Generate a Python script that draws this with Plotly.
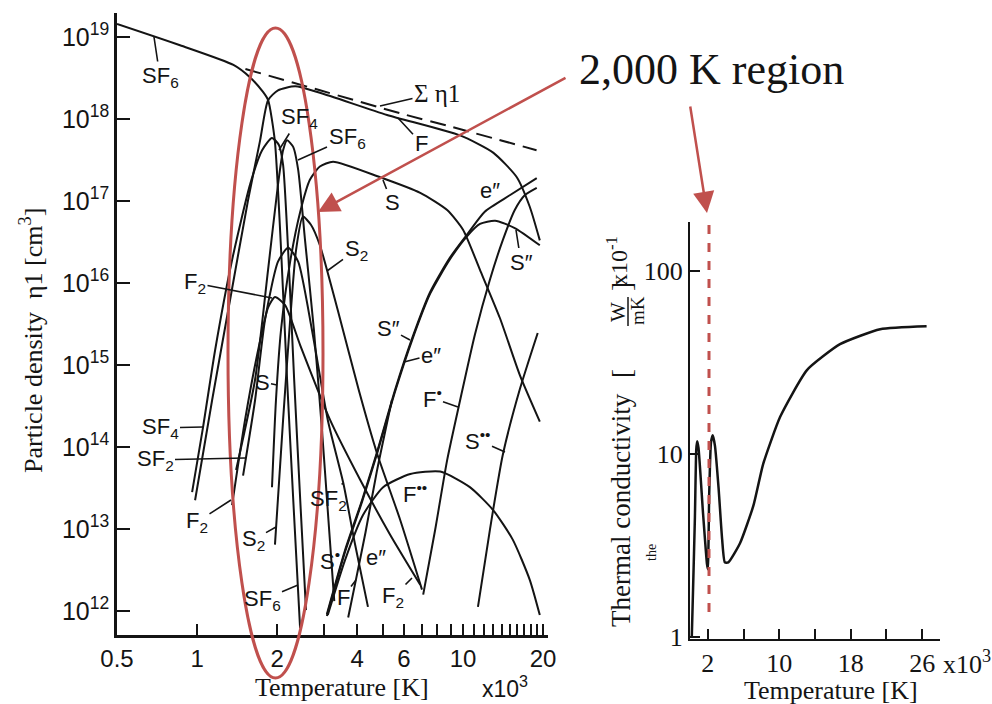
import numpy as np
import plotly.graph_objects as go

W, H = 992, 704


def P(x, y):
    return x / W, 1 - y / H


# ---------------- left panel data (T in 10^3 K, log10 of particle density) -------------
sf6_T = [0.5, 0.863, 1.37, 1.58, 1.77, 1.85, 1.96, 2.07, 2.18, 2.30, 2.44]
sf6_n = [19.16, 18.90, 18.66, 18.51, 18.33, 18.23, 17.74, 16.40, 14.82, 13.35, 11.79]

sum_T = [1.52, 2.90, 5.80, 9.16, 18.9]
sum_n = [18.61, 18.35, 18.07, 17.90, 17.62]

f_T = [0.983, 1.139, 1.330, 1.555, 1.726, 1.849, 2.015, 2.339, 2.896, 5.180, 9.751, 12.98, 15.93, 17.82, 19.44]
f_n = [13.35, 14.57, 15.79, 17.01, 17.74, 18.23, 18.35, 18.40, 18.32, 18.05, 17.80, 17.59, 17.29, 16.93, 16.52]

sf4_T = [0.958, 1.053, 1.169, 1.354, 1.582, 1.756, 1.913, 2.033, 2.106, 2.200, 2.318, 2.443, 2.568]
sf4_n = [13.45, 14.24, 15.18, 16.28, 17.20, 17.62, 17.77, 17.68, 17.44, 16.40, 14.82, 13.35, 12.01]

sf_T = [1.402, 1.652, 1.849, 2.015, 2.106, 2.181, 2.298, 2.400, 2.547, 2.750, 2.950, 3.120, 3.280]
sf_n = [13.72, 14.82, 16.16, 17.20, 17.62, 17.74, 17.66, 17.38, 16.52, 15.43, 14.20, 13.10, 12.12]

s2_T = [1.963, 2.106, 2.239, 2.356, 2.499, 2.680, 2.896, 3.380, 4.050, 4.741, 5.805, 7.01]
s2_n = [12.81, 14.33, 15.55, 16.40, 16.81, 16.71, 16.46, 15.67, 14.70, 13.93, 13.11, 12.26]

f2_T = [1.354, 1.515, 1.696, 1.849, 1.963, 2.143, 2.443, 3.163, 4.104, 5.320, 6.904]
f2_n = [13.29, 14.33, 15.18, 15.70, 15.83, 15.73, 15.24, 14.33, 13.60, 12.93, 12.32]

sf2_T = [1.489, 1.652, 1.801, 2.015, 2.200, 2.400, 2.703, 3.101, 3.547, 3.928, 4.391]
sf2_n = [13.65, 14.57, 15.55, 16.26, 16.43, 16.26, 15.43, 14.33, 13.56, 12.81, 12.05]

s_T = [1.913, 1.980, 2.069, 2.239, 2.443, 2.656, 2.896, 3.246, 4.879, 6.904, 8.716, 10.0, 11.58, 13.77, 16.34, 19.44]
s_n = [13.51, 14.57, 15.43, 16.26, 16.87, 17.26, 17.42, 17.48, 17.29, 17.10, 16.89, 16.65, 16.16, 15.57, 14.88, 14.31]

e_T = [3.076, 3.600, 4.171, 4.741, 5.558, 6.445, 7.524, 8.931, 10.35, 12.07, 14.99, 18.93]
e_n = [11.96, 12.74, 13.35, 13.93, 14.70, 15.33, 15.89, 16.31, 16.59, 16.87, 17.07, 17.28]

s2p_T = [3.076, 3.600, 4.171, 4.741, 5.558, 6.445, 7.524, 8.931, 10.35, 11.58, 13.20, 15.65, 19.44]
s2p_n = [11.94, 12.72, 13.33, 13.91, 14.68, 15.31, 15.87, 16.29, 16.57, 16.72, 16.76, 16.67, 16.46]

fp_T = [3.70, 3.95, 4.30, 4.740, 5.40]
fp_n = [11.92, 12.37, 12.96, 13.70, 14.57]

fpp1_T = [7.083, 7.857, 8.716, 9.751, 11.08, 12.62, 14.10, 15.65, 17.06, 18.93]
fpp1_n = [12.20, 12.99, 13.84, 14.57, 15.37, 16.04, 16.52, 16.89, 17.07, 17.16]

spp_T = [11.38, 12.62, 14.10, 16.34, 19.09]
spp_n = [12.05, 12.99, 13.90, 14.70, 15.39]

fpp_T = [3.101, 3.600, 4.207, 5.007, 6.333, 8.207, 10.61, 12.98, 15.38, 17.82, 19.44]
fpp_n = [11.95, 12.62, 13.17, 13.51, 13.67, 13.70, 13.51, 13.23, 12.87, 12.38, 11.95]

# ---------------- right panel data -------------
tc_T = [0.2, 0.34, 0.55, 0.7, 0.8, 0.95, 1.45, 1.9, 2.0, 2.15, 2.35, 2.55, 2.8, 3.2, 3.6,
        3.9, 4.3, 5.6, 7.1, 8.2, 10.1, 13.1, 16.8, 21.3, 26.5]
tc_k = [1.0, 1.8, 4.5, 10.5, 11.7, 10.8, 4.8, 2.5, 2.34, 6.0, 11.5, 12.6, 11.0, 6.5, 3.4,
        2.55, 2.55, 3.24, 5.2, 8.8, 15.9, 28.6, 39.6, 47.8, 49.6]

left_ticks = [0.5, 1, 2, 3, 4, 5, 6, 7, 8, 9, 10, 11, 12, 13, 14, 15, 16, 17, 18, 19, 20]
left_ticklabels = {0.5: "0.5", 1: "1", 2: "2", 4: "4", 6: "6", 10: "10", 20: "20"}
dens_exp = [12, 13, 14, 15, 16, 17, 18, 19]
right_xticks = [2, 6, 10, 14, 18, 22, 26]
right_xlabels = ["2", " ", "10", " ", "18", " ", "26"]
right_yticks = [1, 10, 100]

INK = "#141414"
RED = "#C0504D"
SANS = "Liberation Sans"
SERIF = "Liberation Serif"

fig = go.Figure()

left_curves = [
    (sf6_T, sf6_n, "solid"), (sum_T, sum_n, "dash"), (f_T, f_n, "solid"), (sf4_T, sf4_n, "solid"),
    (sf_T, sf_n, "solid"), (s2_T, s2_n, "solid"), (f2_T, f2_n, "solid"), (sf2_T, sf2_n, "solid"),
    (s_T, s_n, "solid"), (e_T, e_n, "solid"), (s2p_T, s2p_n, "solid"), (fp_T, fp_n, "solid"),
    (fpp1_T, fpp1_n, "solid"), (spp_T, spp_n, "solid"), (fpp_T, fpp_n, "solid"),
]
for T, n, dash in left_curves:
    fig.add_trace(go.Scatter(
        x=T, y=10 ** np.array(n), mode="lines", xaxis="x", yaxis="y",
        line=dict(color=INK, width=2, dash=dash if dash == "solid" else "16px,8px",
                  shape="spline", smoothing=0.6),
        showlegend=False, hoverinfo="skip"))

fig.add_trace(go.Scatter(
    x=tc_T, y=tc_k, mode="lines", xaxis="x2", yaxis="y2",
    line=dict(color=INK, width=2.5, shape="spline", smoothing=0.5),
    showlegend=False, hoverinfo="skip"))

axis_common = dict(showgrid=False, zeroline=False, showline=True, linecolor=INK,
                   ticks="inside", tickcolor=INK, mirror=False, automargin=False, tickangle=0)

fig.update_layout(
    template="none",
    width=W, height=H, margin=dict(l=0, r=0, t=0, b=0, pad=0, autoexpand=False),
    paper_bgcolor="white", plot_bgcolor="white", showlegend=False,
    xaxis=dict(axis_common, type="log", range=[np.log10(0.5), 1.3195], domain=[117 / W, 548 / W],
               anchor="y", linewidth=2.5, ticklen=11, tickwidth=2,
               tickvals=left_ticks, ticktext=[left_ticklabels.get(t, " ") for t in left_ticks],
               tickfont=dict(family=SANS, size=24, color=INK)),
    yaxis=dict(axis_common, type="log", range=[11.707, 19.293], domain=[1 - 635 / H, 1 - 13 / H],
               anchor="x", linewidth=2.5, ticklen=13, tickwidth=2,
               tickvals=[10.0 ** e for e in dens_exp],
               ticktext=["10<sup>%d</sup>" % e for e in dens_exp],
               tickfont=dict(family=SANS, size=25, color=INK)),
    xaxis2=dict(axis_common, range=[0, 28], domain=[690 / W, 940 / W], anchor="y2",
                linewidth=2, ticklen=10, tickwidth=1.5,
                tickvals=right_xticks, ticktext=right_xlabels,
                tickfont=dict(family=SERIF, size=26, color=INK)),
    yaxis2=dict(axis_common, type="log", range=[-0.012, 2.265], domain=[1 - 639 / H, 1 - 222 / H],
                anchor="x2", linewidth=2, ticklen=10, tickwidth=1.5,
                tickvals=right_yticks, ticktext=[str(v) for v in right_yticks],
                tickfont=dict(family=SERIF, size=26, color=INK)),
)

annotations = []


def text(s, x, y, size, family=SERIF, angle=0, color=INK):
    px, py = P(x, y)
    annotations.append(dict(text=s, x=px, y=py, xref="paper", yref="paper", showarrow=False,
                            textangle=angle, font=dict(family=family, size=size, color=color),
                            xanchor="center", yanchor="middle"))


def label(s, lx, ly, tip=None, size=22):
    if tip is None:
        text(s, lx, ly, size, family=SANS)
        return
    tx, ty = tip
    px, py = P(tx, ty)
    annotations.append(dict(text=s, x=px, y=py, xref="paper", yref="paper", showarrow=True,
                            ax=lx - tx, ay=ly - ty, arrowhead=0, arrowwidth=1.6, arrowcolor=INK,
                            standoff=0, startstandoff=0,
                            font=dict(family=SANS, size=size, color=INK)))


label("SF<sub>6</sub>", 160, 77, (154, 37))
label("SF<sub>4</sub>", 299, 118, (279, 150))
label("SF<sub>6</sub>", 347, 138, (298, 160))
label("F", 421, 143, (398, 118))
label("S", 392, 203, (383, 180))
label("e″", 490, 190)
label("S″", 521, 262, (516, 230))
label("S<sub>2</sub>", 356, 250, (327, 271))
label("F<sub>2</sub>", 195, 283, (272, 298))
label("S", 262, 382, (277, 385))
label("SF<sub>4</sub>", 160, 428, (203, 427))
label("SF<sub>2</sub>", 155, 460, (245, 458))
label("F<sub>2</sub>", 197, 522, (231, 500))
label("S<sub>2</sub>", 253, 540, (276, 527))
label("SF<sub>6</sub>", 262, 600, (298, 585))
label("SF<sub>2</sub>", 328, 500, (343, 483))
label("S″", 388, 328, (410, 340))
label("e″", 431, 355, (404, 362))
label("F<sup>•</sup>", 432, 398, (458, 407))
label("S<sup>••</sup>", 478, 440, (505, 452))
label("F<sup>••</sup>", 415, 493)
label("S<sup>•</sup>", 330, 560)
label("e″", 376, 557)
label("F", 343, 597, (356, 580))
label("F<sub>2</sub>", 393, 597, (412, 578))

# sigma label with pointer
px, py = P(380, 106)
annotations.append(dict(text="Σ η1", x=px, y=py, xref="paper", yref="paper", showarrow=True,
                        ax=437 - 380, ay=93 - 106, arrowhead=0, arrowwidth=1.6, arrowcolor=INK,
                        standoff=0, font=dict(family=SERIF, size=25, color=INK)))

text("x10<sup>3</sup>", 505, 687, 23, family=SANS)
text("Temperature [K]", 342, 687, 26)
text("Particle density  η1 [cm<sup>3</sup>]", 31, 341, 26, angle=-90)

# right panel titles
text("Temperature [K]", 831, 690, 26)
text("x10<sup>3</sup>", 967, 662, 26)
text("Thermal conductivity", 621, 510, 27, angle=-90)
text("[", 622, 374, 27, angle=-90)
text("W", 618, 312, 21, angle=-90)
text("mK", 637, 311, 19, angle=-90)
text("]", 622, 287, 27, angle=-90)
text("x10<sup>-1</sup>", 617, 261, 24, angle=-90)
text("the", 651, 553, 14, angle=-90)

# callout text and arrows
px, py = P(577, 70)
annotations.append(dict(text="2,000 K region", x=px, y=py, xref="paper", yref="paper", showarrow=False,
                        xanchor="left", yanchor="middle", font=dict(family=SERIF, size=44, color=INK)))
for tip, tail in [((318, 212), (567, 77)), ((707, 213), (690, 105))]:
    px, py = P(*tip)
    annotations.append(dict(text="", x=px, y=py, xref="paper", yref="paper", showarrow=True,
                            ax=tail[0] - tip[0], ay=tail[1] - tip[1], arrowhead=2, arrowsize=1.7,
                            arrowwidth=2.5, arrowcolor=RED, standoff=0))

fig.update_layout(annotations=annotations)

x0, y0 = P(228, 678)
x1, y1 = P(323, 28)
dx0, dy0 = P(709, 612)
dx1, dy1 = P(709, 216)
bx, by0 = P(628, 326)
_, by1 = P(628, 297)
fig.update_layout(shapes=[
    dict(type="circle", xref="paper", yref="paper", x0=x0, x1=x1, y0=y0, y1=y1,
         line=dict(color=RED, width=3)),
    dict(type="line", xref="paper", yref="paper", x0=dx0, x1=dx1, y0=dy0, y1=dy1,
         line=dict(color=RED, width=3, dash="dash")),
    dict(type="line", xref="paper", yref="paper", x0=bx, x1=bx, y0=by0, y1=by1,
         line=dict(color=INK, width=1.5)),
])

fig.write_html("out.html", config={"displayModeBar": False},
               post_script="document.body.style.margin='0';")
